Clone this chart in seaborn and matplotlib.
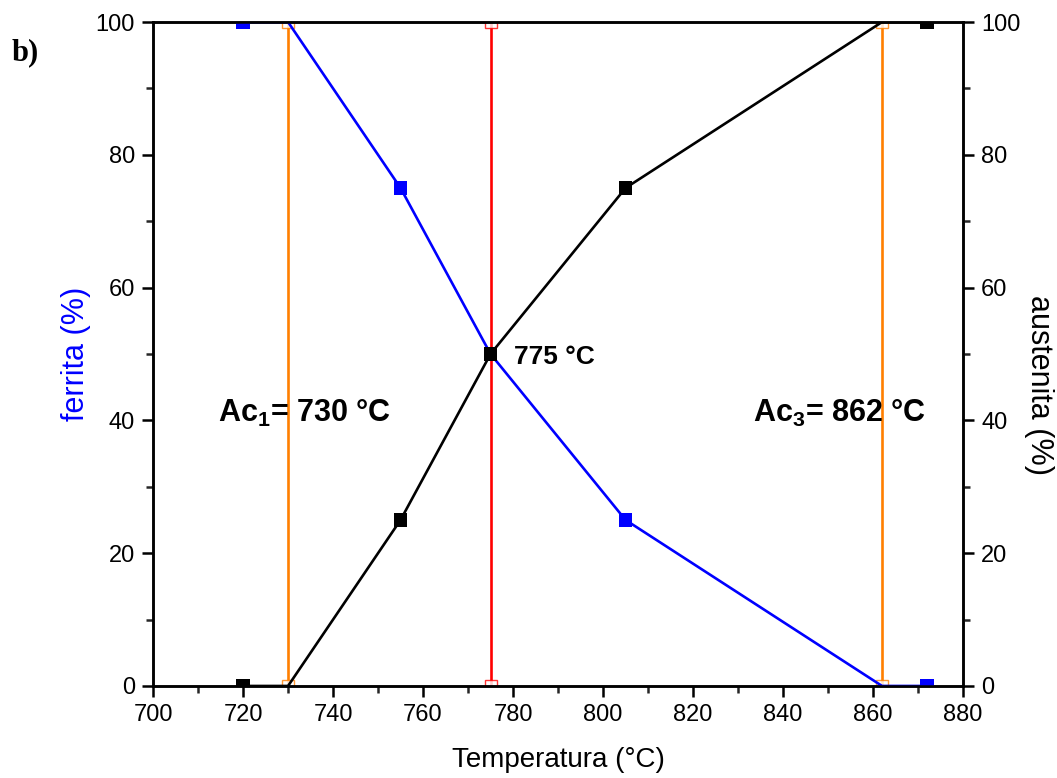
import matplotlib
matplotlib.use("Agg")
import matplotlib.pyplot as plt
import seaborn as sns
import pandas as pd
from matplotlib.ticker import MultipleLocator

sns.set_theme(style="white")
plt.rcParams["font.family"] = ["Liberation Sans", "DejaVu Sans"]
plt.rcParams["text.color"] = "black"
plt.rcParams["axes.labelcolor"] = "black"
plt.rcParams["mathtext.fontset"] = "custom"
plt.rcParams["mathtext.rm"] = "Liberation Sans:bold"
plt.rcParams["mathtext.default"] = "rm"

# Phase fractions versus temperature
temperatura = [720, 730, 755, 775, 805, 862, 872]
ferrita = [100, 100, 75, 50, 25, 0, 0]
austenita = [0, 0, 25, 50, 75, 100, 100]
# points shown with filled markers
marker_temps = [720, 755, 775, 805, 872]

# transformation temperatures
ac1, t50, ac3 = 730, 775, 862

df = pd.DataFrame({"T": temperatura, "ferrita": ferrita, "austenita": austenita})
dfm = df[df["T"].isin(marker_temps)]

fig = plt.figure(figsize=(10.57, 7.78), dpi=100)
ax = fig.add_axes([0.1448, 0.1183, 0.7663, 0.8534])

lw = 1.9
sns.lineplot(data=df, x="T", y="ferrita", color="#0000ff", lw=lw, ax=ax, zorder=3)
sns.scatterplot(data=dfm, x="T", y="ferrita", color="#0000ff", marker="s", s=90,
                edgecolor="none", ax=ax, zorder=4)
sns.lineplot(data=df, x="T", y="austenita", color="black", lw=lw, ax=ax, zorder=3)
sns.scatterplot(data=dfm, x="T", y="austenita", color="black", marker="s", s=90,
                edgecolor="none", ax=ax, zorder=5)

# vertical markers for Ac1, 50 % and Ac3
for t, c in [(ac1, "#ff7f00"), (t50, "#ff0000"), (ac3, "#ff7f00")]:
    ax.plot([t, t], [0, 100], color=c, lw=lw, zorder=2)
    ax.plot([t, t], [0, 100], ls="none", marker="s", ms=8, mfc="white",
            mec=c, mew=1.0, zorder=2.5, alpha=0.8)

ax.set_xlim(700, 880)
ax.set_ylim(0, 100)
ax.xaxis.set_major_locator(MultipleLocator(20))
ax.xaxis.set_minor_locator(MultipleLocator(10))
ax.yaxis.set_major_locator(MultipleLocator(20))
ax.yaxis.set_minor_locator(MultipleLocator(10))

for s in ax.spines.values():
    s.set_linewidth(1.8)
    s.set_color("black")

ax.tick_params(which="major", direction="out", length=8, width=1.8,
               labelsize=17, colors="black", top=False, right=False,
               bottom=True, left=True, pad=5)
ax.tick_params(which="minor", direction="out", length=5, width=1.8,
               top=False, right=False, bottom=True, left=True)

ax.set_xlabel("Temperatura (°C)", fontsize=20, labelpad=15)
ax.set_ylabel("ferrita (%)", fontsize=22, color="#0000ff", labelpad=3)

ax2 = ax.twinx()
ax2.set_ylim(0, 100)
ax2.yaxis.set_major_locator(MultipleLocator(20))
ax2.yaxis.set_minor_locator(MultipleLocator(10))
ax2.tick_params(which="major", direction="out", length=8, width=1.8,
                labelsize=17, colors="black", right=True, left=False, pad=5)
ax2.tick_params(which="minor", direction="out", length=5, width=1.8,
                right=True, left=False)
ax2.set_ylabel("austenita (%)", fontsize=22, rotation=270, labelpad=24)
ax2.yaxis.label.set_y(0.453)
for s in ax2.spines.values():
    s.set_linewidth(1.8)
    s.set_color("black")

ax.text(714.4, 41.0, r"Ac$_1$= 730 °C", fontsize=22, fontweight="bold",
        va="center", ha="left")
ax.text(833.3, 41.0, r"Ac$_3$= 862 °C", fontsize=22, fontweight="bold",
        va="center", ha="left")
ax.text(780.2, 49.5, "775 °C", fontsize=19, fontweight="bold",
        va="center", ha="left")

fig.text(0.011, 0.932, "b)", fontsize=22, fontweight="bold",
         family="Liberation Serif", ha="left", va="center")

fig.savefig("out.png", dpi=100)
